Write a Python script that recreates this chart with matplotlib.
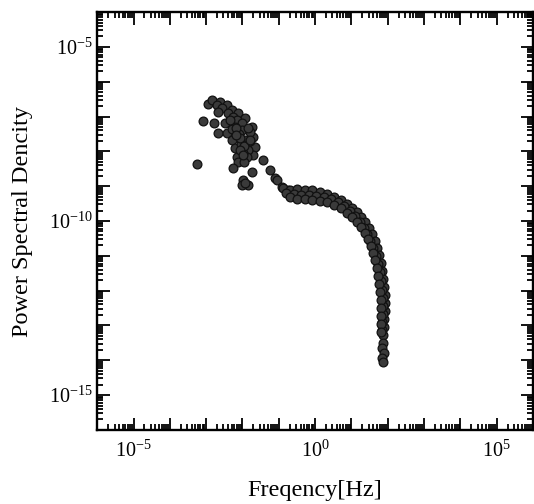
import numpy as np
import matplotlib
matplotlib.use("Agg")
import matplotlib.pyplot as plt
from matplotlib.ticker import LogLocator, LogFormatterSciNotation, NullFormatter

plt.rcParams['font.family'] = ['Liberation Serif', 'DejaVu Serif']
plt.rcParams['mathtext.fontset'] = 'custom'
plt.rcParams['mathtext.rm'] = 'Liberation Serif'
plt.rcParams['mathtext.it'] = 'Liberation Serif:italic'

# low-frequency scattered cluster (log10 of values)
cluster_freq_exp = [-3.25, -3.08, -2.78, -2.67,
                    -2.94, -2.83, -2.61, -2.42, -2.28, -2.12, -1.92, -1.73, -1.70, -1.65, -1.70,
                    -2.69, -2.56, -2.39, -2.25, -2.14, -2.01, -2.01, -1.92, -1.84, -1.87,
                    -2.47, -2.42, -2.28, -2.20, -2.14, -2.12, -2.25,
                    -2.20, -2.10, -2.05, -1.98, -1.80, -1.78, -1.95, -2.30,
                    -2.34, -2.17, -2.06, -1.95, -2.06, -1.79, -1.84, -1.98, -2.17, -2.67,
                    -1.73, -1.98, -1.84, -2.01, -1.92,
                    -1.43, -1.23, -1.10,
                    -1.04, -0.90, -0.74, -0.60]
cluster_psd_exp = [-8.37, -7.13, -7.19, -7.48,
                   -6.64, -6.53, -6.59, -6.67, -6.82, -6.90, -7.05, -7.30, -7.59, -7.88, -8.11,
                   -6.67, -6.76, -6.90, -7.02, -7.10, -7.19, -7.39, -7.68, -7.97, -8.17,
                   -7.19, -7.48, -7.68, -7.91, -8.17, -8.31, -8.48,
                   -7.30, -7.50, -7.80, -8.05, -7.45, -7.70, -8.30, -7.35,
                   -7.10, -7.33, -7.62, -7.85, -7.97, -7.68, -7.33, -8.11, -7.53, -6.87,
                   -8.60, -8.83, -8.97, -8.97, -8.92,
                   -8.25, -8.54, -8.77,
                   -8.83, -9.03, -9.11, -9.20]

# plateau and roll-off band: upper edge, middle, lower edge, tail
band_upper_freq_exp = [-0.88, -0.68, -0.49, -0.27, -0.08, 0.14, 0.34, 0.53, 0.72, 0.89,
                       1.02, 1.16, 1.27, 1.38, 1.49, 1.58, 1.66, 1.71, 1.77, 1.82,
                       1.85, 1.88, 1.91, 1.93, 1.93, 1.93, 1.91, 1.91, 1.88]
band_upper_psd_exp = [-9.06, -9.11, -9.09, -9.11, -9.11, -9.17, -9.23, -9.32, -9.40, -9.52,
                      -9.63, -9.75, -9.89, -10.03, -10.21, -10.38, -10.58, -10.78, -10.98, -11.21,
                      -11.44, -11.67, -11.90, -12.13, -12.36, -12.59, -12.82, -13.05, -13.28]
band_mid_freq_exp = [-0.79, -0.57, -0.38, -0.16, 0.03, 0.25, 0.45, 0.64, 0.80, 0.97,
                     1.11, 1.25, 1.36, 1.44, 1.52, 1.60, 1.69, 1.74, 1.80, 1.82,
                     1.85, 1.88, 1.88, 1.88, 1.85, 1.85]
band_mid_psd_exp = [-9.20, -9.23, -9.26, -9.26, -9.29, -9.32, -9.37, -9.46, -9.57, -9.72,
                    -9.86, -10.03, -10.21, -10.38, -10.58, -10.78, -11.01, -11.24, -11.47, -11.73,
                    -11.99, -12.22, -12.45, -12.68, -12.91, -13.14]
band_lower_freq_exp = [-0.68, -0.49, -0.27, -0.08, 0.14, 0.34, 0.53, 0.72, 0.89, 1.02,
                       1.16, 1.27, 1.38, 1.47, 1.55, 1.60, 1.66, 1.71, 1.74, 1.77,
                       1.80, 1.82, 1.82, 1.82, 1.82, 1.82]
band_lower_psd_exp = [-9.32, -9.37, -9.37, -9.40, -9.43, -9.46, -9.55, -9.63, -9.78, -9.89,
                      -10.03, -10.18, -10.35, -10.52, -10.72, -10.93, -11.13, -11.36, -11.59, -11.82,
                      -12.05, -12.28, -12.51, -12.74, -12.97, -13.20]
tail_freq_exp = [1.88, 1.85, 1.91, 1.85, 1.88]
tail_psd_exp = [-13.51, -13.66, -13.80, -13.94, -14.06]

freq_exp = (cluster_freq_exp + band_upper_freq_exp + band_mid_freq_exp
            + band_lower_freq_exp + tail_freq_exp)
psd_exp = (cluster_psd_exp + band_upper_psd_exp + band_mid_psd_exp
           + band_lower_psd_exp + tail_psd_exp)
freq = 10.0 ** np.array(freq_exp)
psd = 10.0 ** np.array(psd_exp)

fig = plt.figure(figsize=(5.34, 5.04), dpi=100)
ax = fig.add_axes([0.182, 0.147, 0.816, 0.829])

ax.scatter(freq, psd, s=40, facecolor='#3a3a3a', edgecolor='#111111',
           linewidth=0.9, zorder=3)

ax.set_xscale('log')
ax.set_yscale('log')
ax.set_xlim(1e-6, 1e6)
ax.set_ylim(1e-16, 1e-4)

ax.xaxis.set_major_locator(LogLocator(base=10, numticks=20))
ax.yaxis.set_major_locator(LogLocator(base=10, numticks=20))
ax.xaxis.set_minor_locator(LogLocator(base=10, subs=np.arange(2, 10), numticks=20))
ax.yaxis.set_minor_locator(LogLocator(base=10, subs=np.arange(2, 10), numticks=20))
ax.xaxis.set_minor_formatter(NullFormatter())
ax.yaxis.set_minor_formatter(NullFormatter())

sci = LogFormatterSciNotation()
ax.xaxis.set_major_formatter(lambda v, p: sci(v) if round(np.log10(v)) % 5 == 0 else '')
ax.yaxis.set_major_formatter(lambda v, p: sci(v) if round(np.log10(v)) % 5 == 0 else '')

ax.tick_params(which='both', direction='in', top=True, right=True, width=1.3)
ax.tick_params(which='major', length=9, labelsize=14.5)
ax.tick_params(which='minor', length=4.5)
ax.tick_params(axis='x', which='major', pad=8)
ax.tick_params(axis='y', which='major', pad=3)
for sp in ax.spines.values():
    sp.set_linewidth(1.7)

ax.set_xlabel('Freqency[Hz]', fontsize=17.5, labelpad=13)
ax.set_ylabel('Power Spectral Dencity', fontsize=17.5, labelpad=12)

fig.savefig('out.png', dpi=100)
